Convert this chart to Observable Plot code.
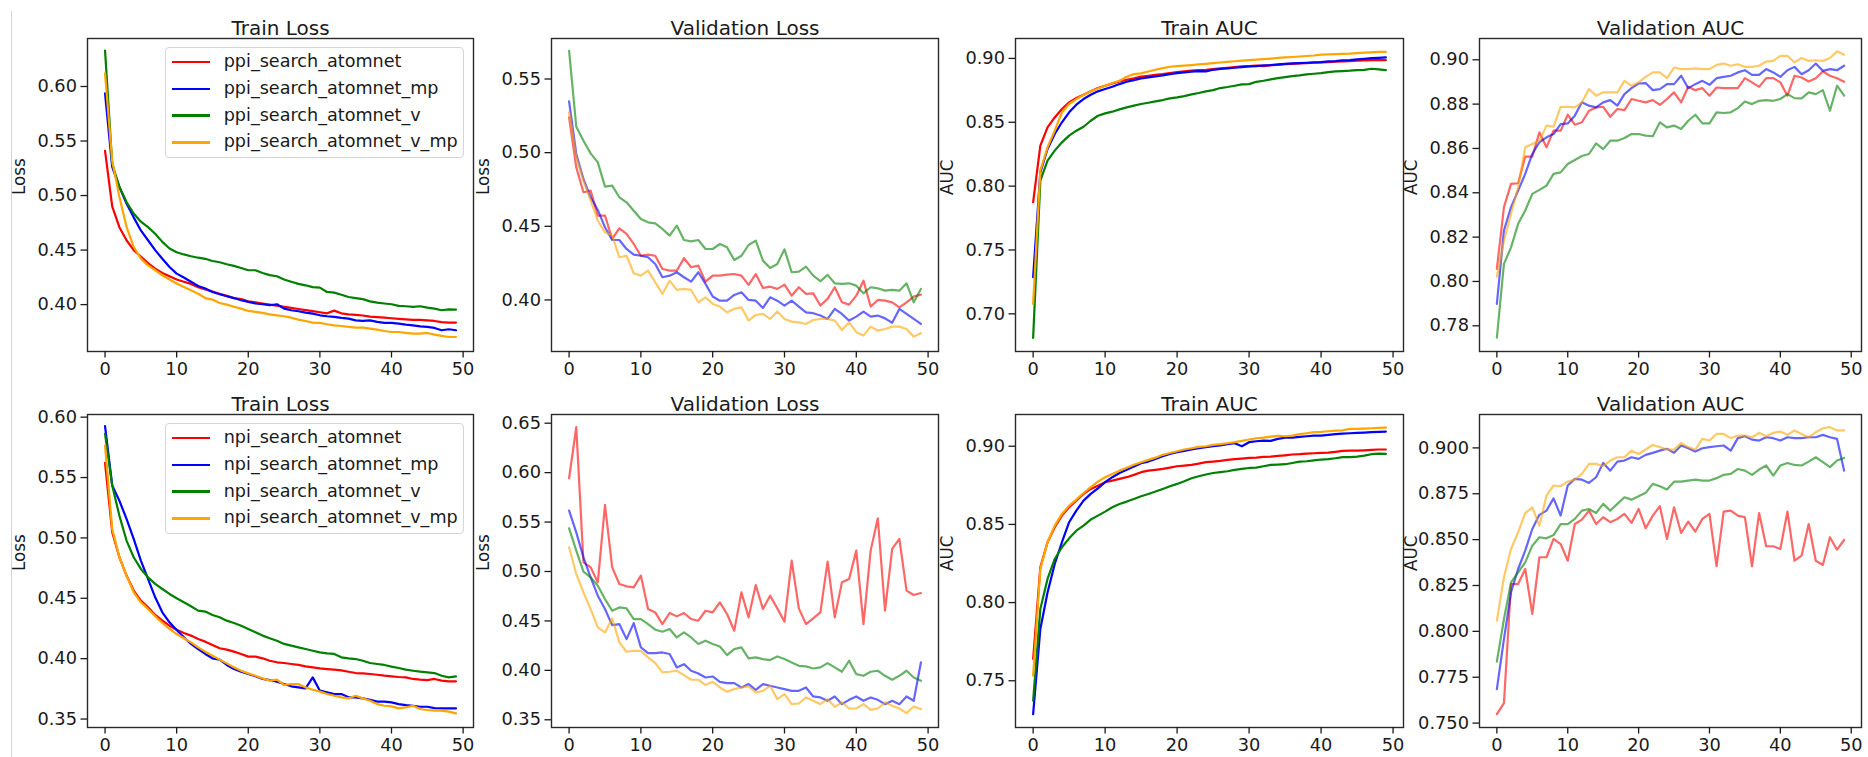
<!DOCTYPE html>
<html><head><meta charset="utf-8">
<script src="https://cdn.jsdelivr.net/npm/d3@7"></script>
<script src="https://cdn.jsdelivr.net/npm/@observablehq/plot@0.6"></script>
<style>
body{margin:0;background:#fff;}
#chart{position:relative;width:1868px;height:757px;overflow:hidden;background:#fff;font-family:'DejaVu Sans',sans-serif;color:#1a1a1a;}
.panel{position:absolute;}
.edge{position:absolute;left:11px;top:11px;width:1px;height:746px;background:#d4d4d4;}
.legend{position:absolute;box-sizing:border-box;border:1px solid #d6d6d6;border-radius:4px;background:rgba(255,255,255,0.85);}
.legend .sw{position:absolute;height:2.4px;}
.legend .lab{position:absolute;font-size:17.6px;line-height:1;white-space:nowrap;transform:translateY(-50%);}
</style></head><body><div id="chart"><div class="edge"></div></div><script>
// ---------- data ----------
const epochs = d3.range(50);
const xTicks = [0, 10, 20, 30, 40, 50];
const seriesColors = ["#ff0000", "#0000ff", "#008000", "#ffa500"];
const ppiNames = ["ppi_search_atomnet", "ppi_search_atomnet_mp", "ppi_search_atomnet_v", "ppi_search_atomnet_v_mp"];
const npiNames = ["npi_search_atomnet", "npi_search_atomnet_mp", "npi_search_atomnet_v", "npi_search_atomnet_v_mp"];
const titles = ["Train Loss", "Validation Loss", "Train AUC", "Validation AUC"];
const yLabels = ["Loss", "Loss", "AUC", "AUC"];

// ppi - train loss
const ppiTrainLoss_atomnet = [0.541,0.490,0.471,0.459,0.450,0.444,0.438,0.433,0.429,0.426,0.423,0.421,0.419,0.416,0.414,0.412,0.410,0.408,0.406,0.405,0.403,0.402,0.401,0.400,0.399,0.398,0.397,0.396,0.395,0.394,0.393,0.392,0.3945,0.392,0.391,0.3905,0.390,0.389,0.3885,0.388,0.3875,0.387,0.3865,0.386,0.386,0.3855,0.385,0.384,0.3835,0.3835];
const ppiTrainLoss_mp = [0.5936,0.5263,0.508,0.4927,0.480,0.468,0.459,0.450,0.442,0.4345,0.4284,0.4248,0.421,0.4171,0.4147,0.4116,0.4095,0.4077,0.406,0.404,0.4025,0.401,0.4003,0.3994,0.4003,0.3963,0.3948,0.3939,0.3927,0.3917,0.3902,0.3893,0.3887,0.3878,0.3872,0.3856,0.385,0.3856,0.3841,0.3832,0.3832,0.3826,0.3817,0.381,0.380,0.3795,0.3786,0.3765,0.3774,0.3765];
const ppiTrainLoss_v = [0.633,0.529,0.508,0.494,0.4835,0.476,0.471,0.465,0.4575,0.4514,0.448,0.446,0.4443,0.443,0.442,0.440,0.4388,0.437,0.4355,0.4336,0.4315,0.4315,0.429,0.427,0.426,0.423,0.421,0.419,0.4177,0.416,0.4156,0.4116,0.411,0.409,0.407,0.406,0.405,0.403,0.4018,0.401,0.4003,0.3988,0.3985,0.398,0.3985,0.3972,0.3963,0.3948,0.3957,0.3954];
const ppiTrainLoss_v_mp = [0.612,0.532,0.499,0.4713,0.453,0.4422,0.436,0.4315,0.4269,0.423,0.4193,0.4162,0.4132,0.410,0.406,0.4046,0.4015,0.400,0.398,0.3963,0.3942,0.3933,0.3924,0.3911,0.3902,0.3893,0.388,0.3862,0.385,0.3835,0.3832,0.382,0.381,0.3804,0.3795,0.3789,0.3789,0.378,0.377,0.3758,0.3749,0.3749,0.374,0.3734,0.3734,0.374,0.3725,0.3713,0.3703,0.3703];

// ppi - validation loss
const ppiValLoss_atomnet = [0.524,0.490,0.4731,0.4742,0.4572,0.4572,0.4414,0.4486,0.4448,0.438,0.430,0.4308,0.430,0.421,0.4199,0.4199,0.4283,0.4222,0.4233,0.4124,0.4165,0.4165,0.4172,0.4176,0.4165,0.4102,0.4176,0.4081,0.409,0.4075,0.4104,0.4029,0.4086,0.4041,0.4045,0.3962,0.4007,0.4086,0.3984,0.3968,0.4029,0.4131,0.3955,0.400,0.3995,0.3984,0.395,0.3984,0.4023,0.4036];
const ppiValLoss_mp = [0.5348,0.4991,0.4821,0.4697,0.4611,0.4493,0.4407,0.4407,0.4346,0.4308,0.430,0.429,0.4244,0.4154,0.4165,0.4188,0.4154,0.4124,0.4188,0.4109,0.4023,0.3995,0.3995,0.4034,0.4052,0.400,0.3995,0.3946,0.4018,0.3995,0.3962,0.3995,0.3955,0.3916,0.391,0.3894,0.3871,0.3939,0.3905,0.386,0.3887,0.3921,0.3887,0.3894,0.3875,0.3845,0.3939,0.3905,0.3871,0.3837];
const ppiValLoss_v = [0.5692,0.5176,0.5081,0.4995,0.4934,0.4769,0.4776,0.4697,0.4663,0.4606,0.455,0.4527,0.452,0.4482,0.4437,0.4505,0.4407,0.4398,0.4407,0.4346,0.4346,0.438,0.4357,0.4271,0.430,0.4373,0.4403,0.4267,0.4217,0.4244,0.4344,0.4188,0.4192,0.4226,0.4165,0.4127,0.417,0.4113,0.4109,0.4113,0.4097,0.4045,0.4086,0.4079,0.4063,0.4068,0.4063,0.4113,0.3984,0.4075];
const ppiValLoss_v_mp = [0.5274,0.4968,0.481,0.4674,0.4538,0.4459,0.4437,0.429,0.430,0.4181,0.4165,0.4199,0.412,0.4041,0.4131,0.4068,0.4075,0.4068,0.3984,0.4018,0.3973,0.3955,0.3916,0.3939,0.395,0.386,0.3898,0.3905,0.3871,0.3921,0.3871,0.3853,0.3848,0.3837,0.3864,0.3871,0.3871,0.386,0.3796,0.3848,0.3781,0.3758,0.3819,0.3792,0.3803,0.3819,0.3819,0.3803,0.3751,0.3774];

// ppi - train AUC
const ppiTrainAuc_atomnet = [0.7874,0.8317,0.846,0.8538,0.8604,0.8656,0.869,0.8716,0.8742,0.8768,0.8786,0.8804,0.882,0.8833,0.8844,0.8857,0.8864,0.8872,0.8877,0.8885,0.8893,0.8898,0.8904,0.8909,0.8911,0.8917,0.8922,0.8927,0.8932,0.8937,0.894,0.8943,0.894,0.8948,0.895,0.8956,0.8958,0.8961,0.8963,0.8966,0.8969,0.8971,0.8974,0.8977,0.8979,0.8982,0.8984,0.8987,0.8987,0.8987];
const ppiTrainAuc_mp = [0.7287,0.8108,0.8291,0.8408,0.85,0.8578,0.8638,0.8682,0.8716,0.8742,0.876,0.8778,0.8799,0.8817,0.883,0.8844,0.8851,0.8859,0.8867,0.8877,0.8885,0.889,0.8896,0.8901,0.8898,0.8911,0.8917,0.8922,0.8927,0.8932,0.8937,0.894,0.8945,0.8948,0.8953,0.8958,0.8961,0.8963,0.8966,0.8969,0.8971,0.8977,0.8979,0.8984,0.8987,0.8992,0.8997,0.9003,0.9005,0.9008];
const ppiTrainAuc_v = [0.6812,0.8043,0.82,0.8278,0.8343,0.8395,0.8434,0.8465,0.8512,0.8551,0.857,0.8583,0.8601,0.8617,0.863,0.8643,0.8653,0.8664,0.8674,0.8687,0.8695,0.8705,0.8718,0.8729,0.8742,0.8752,0.8768,0.8776,0.8786,0.8797,0.8799,0.8817,0.8825,0.8836,0.8846,0.8854,0.8862,0.8867,0.8875,0.888,0.8885,0.8893,0.8898,0.8901,0.8904,0.8909,0.8911,0.8919,0.8914,0.8909];
const ppiTrainAuc_v_mp = [0.7078,0.8121,0.8304,0.8434,0.8578,0.8643,0.8682,0.8713,0.8742,0.8765,0.8786,0.8807,0.8825,0.8857,0.8877,0.8883,0.8898,0.8911,0.8924,0.8935,0.894,0.8944,0.8948,0.8953,0.8958,0.8963,0.8968,0.8973,0.8978,0.8982,0.8987,0.8991,0.8995,0.8999,0.9004,0.9008,0.9011,0.9015,0.9019,0.9023,0.9029,0.9031,0.9034,0.9036,0.9038,0.9042,0.9045,0.9048,0.9051,0.9052];

// ppi - validation AUC
const ppiValAuc_atomnet = [0.8057,0.8335,0.844,0.8443,0.8563,0.8563,0.8673,0.8605,0.868,0.868,0.8752,0.8707,0.8718,0.877,0.8785,0.8788,0.8743,0.8778,0.8773,0.8823,0.8815,0.8808,0.8818,0.8797,0.8823,0.8853,0.8808,0.8878,0.8863,0.8872,0.8838,0.8875,0.8872,0.8872,0.8872,0.8917,0.8898,0.8878,0.8917,0.8917,0.8898,0.8838,0.8928,0.892,0.8902,0.8917,0.8947,0.8928,0.8917,0.8901];
const ppiValAuc_mp = [0.7899,0.823,0.8335,0.841,0.8485,0.8575,0.8628,0.865,0.8665,0.871,0.8713,0.8748,0.8808,0.8793,0.8785,0.8808,0.8818,0.8793,0.8845,0.8872,0.8893,0.8895,0.8863,0.8868,0.889,0.889,0.8928,0.8872,0.889,0.8905,0.8887,0.8917,0.8923,0.8928,0.8943,0.8953,0.8932,0.8932,0.8958,0.8943,0.8923,0.8953,0.8968,0.8935,0.8953,0.8983,0.895,0.8958,0.8953,0.8973];
const ppiValAuc_v = [0.7746,0.8079,0.8154,0.826,0.832,0.8395,0.8413,0.8432,0.8485,0.8492,0.853,0.8548,0.8566,0.8575,0.8623,0.8597,0.8635,0.8635,0.8647,0.8665,0.8665,0.8658,0.8655,0.8718,0.8695,0.8703,0.8688,0.8725,0.8752,0.8713,0.8713,0.8763,0.876,0.8763,0.8782,0.8812,0.88,0.8815,0.8818,0.8815,0.8823,0.8845,0.8827,0.8826,0.8853,0.8845,0.8863,0.877,0.8883,0.8838];
const ppiValAuc_v_mp = [0.8022,0.8184,0.8305,0.8425,0.8605,0.862,0.8635,0.8703,0.8698,0.8788,0.8788,0.8785,0.8808,0.8868,0.8838,0.8853,0.8853,0.8853,0.8905,0.8883,0.8898,0.8923,0.8943,0.8943,0.8917,0.8965,0.8958,0.8958,0.8961,0.8958,0.8958,0.8977,0.8983,0.8973,0.898,0.8968,0.8968,0.8973,0.8992,0.8995,0.9018,0.9018,0.8988,0.9008,0.8995,0.8998,0.8995,0.9008,0.9038,0.9023];

// npi - train loss
const npiTrainLoss_atomnet = [0.5622,0.5047,0.484,0.4688,0.4564,0.4481,0.4425,0.4362,0.4315,0.4273,0.424,0.4213,0.4191,0.4163,0.4141,0.4113,0.4086,0.4075,0.4058,0.4039,0.4017,0.4017,0.4003,0.3983,0.397,0.3964,0.3956,0.3948,0.3936,0.3928,0.392,0.3914,0.3909,0.3903,0.3892,0.3881,0.3878,0.3873,0.3867,0.3859,0.3854,0.3848,0.3845,0.3832,0.3826,0.3823,0.3832,0.3818,0.3812,0.3812];
const npiTrainLoss_mp = [0.5925,0.5434,0.5309,0.5157,0.4992,0.4812,0.466,0.4508,0.4384,0.4301,0.4238,0.4177,0.4122,0.408,0.4039,0.4003,0.3992,0.3948,0.3914,0.3892,0.3873,0.3854,0.3832,0.3823,0.3809,0.379,0.3771,0.3762,0.3754,0.3845,0.3735,0.3721,0.3707,0.3707,0.368,0.368,0.3671,0.366,0.3644,0.3644,0.3638,0.3624,0.3616,0.361,0.3602,0.3602,0.3591,0.3588,0.3588,0.3588];
const npiTrainLoss_v = [0.5862,0.5434,0.5185,0.4978,0.484,0.4743,0.4674,0.4619,0.4577,0.4536,0.45,0.4467,0.4434,0.4398,0.439,0.4362,0.4343,0.4315,0.4296,0.4273,0.4246,0.4218,0.4191,0.4169,0.4149,0.4122,0.4108,0.4094,0.408,0.4066,0.4052,0.4044,0.4039,0.4011,0.4003,0.3997,0.3983,0.3964,0.3956,0.3948,0.3934,0.3923,0.3909,0.39,0.3892,0.3887,0.3881,0.3859,0.3845,0.3854];
const npiTrainLoss_v_mp = [0.5765,0.5075,0.484,0.4688,0.455,0.4467,0.4412,0.4351,0.4296,0.4246,0.4204,0.4169,0.4135,0.4094,0.4058,0.4025,0.3992,0.3961,0.3928,0.39,0.3878,0.3859,0.3837,0.3818,0.3826,0.3782,0.379,0.379,0.3762,0.3743,0.3727,0.3707,0.3693,0.368,0.3671,0.3693,0.3671,0.3652,0.3624,0.361,0.3605,0.3588,0.3597,0.361,0.3583,0.3575,0.3569,0.3569,0.3561,0.3547];

// npi - validation loss
const npiValLoss_atomnet = [0.5943,0.646,0.5093,0.5042,0.489,0.5673,0.5042,0.4873,0.485,0.484,0.4958,0.462,0.4586,0.4468,0.458,0.4546,0.458,0.4519,0.4502,0.4603,0.4586,0.4688,0.457,0.4401,0.4789,0.4536,0.4863,0.462,0.4755,0.4627,0.4492,0.511,0.4627,0.4468,0.4526,0.4586,0.51,0.4536,0.489,0.4924,0.5211,0.4468,0.5211,0.5538,0.4603,0.5228,0.5329,0.4806,0.4762,0.4782];
const npiValLoss_mp = [0.5616,0.5396,0.5143,0.4941,0.4755,0.462,0.4458,0.4468,0.4316,0.4478,0.4232,0.4175,0.4175,0.4181,0.4165,0.403,0.4063,0.3996,0.3969,0.3928,0.3938,0.3884,0.3871,0.3871,0.3827,0.3861,0.3803,0.3861,0.3844,0.3827,0.381,0.3793,0.3793,0.3827,0.3736,0.3726,0.3692,0.3736,0.3658,0.3702,0.3736,0.3692,0.3726,0.3702,0.3658,0.3692,0.3658,0.3736,0.3692,0.408];
const npiValLoss_v = [0.5437,0.5211,0.4998,0.4941,0.4856,0.4721,0.4603,0.4637,0.4627,0.4519,0.4519,0.4468,0.4411,0.4391,0.4418,0.4333,0.4384,0.4333,0.4266,0.43,0.4266,0.4242,0.4154,0.4215,0.4232,0.4121,0.4131,0.4114,0.4104,0.4141,0.4114,0.408,0.4046,0.404,0.4019,0.403,0.4073,0.403,0.3986,0.4097,0.3962,0.3945,0.3986,0.3996,0.3945,0.3905,0.3945,0.3996,0.3928,0.3895];
const npiValLoss_v_mp = [0.5245,0.4975,0.4789,0.462,0.4435,0.4384,0.4526,0.4283,0.4188,0.4198,0.4198,0.4131,0.4073,0.3979,0.3986,0.3996,0.3952,0.3905,0.3905,0.3851,0.3884,0.3827,0.3783,0.381,0.3827,0.3837,0.3776,0.3793,0.3844,0.3709,0.376,0.3658,0.3665,0.3726,0.3692,0.3658,0.3709,0.3631,0.3675,0.3614,0.3614,0.3658,0.3601,0.3614,0.3675,0.3641,0.3614,0.3567,0.3635,0.3608];

// npi - train AUC
const npiTrainAuc_atomnet = [0.7639,0.8226,0.8386,0.8482,0.8556,0.861,0.8652,0.8695,0.8727,0.8748,0.877,0.878,0.8791,0.8802,0.8817,0.8834,0.8844,0.8849,0.8855,0.8863,0.8872,0.8876,0.8881,0.8889,0.8898,0.8902,0.8906,0.8913,0.8917,0.8921,0.8925,0.8927,0.8932,0.8934,0.8938,0.8942,0.8947,0.8949,0.8953,0.8955,0.8957,0.8959,0.8964,0.897,0.8972,0.8972,0.8974,0.8977,0.8979,0.8979];
const npiTrainAuc_mp = [0.7287,0.7831,0.8065,0.8247,0.8386,0.8514,0.8588,0.8652,0.8695,0.8731,0.877,0.8802,0.8829,0.8849,0.887,0.8891,0.8902,0.8919,0.8936,0.8951,0.8962,0.897,0.8979,0.8987,0.8994,0.9,0.9006,0.9013,0.9019,0.9,0.9026,0.9032,0.9036,0.9034,0.9047,0.9055,0.9055,0.906,0.9064,0.9068,0.9068,0.9073,0.9077,0.9081,0.9083,0.9085,0.9087,0.909,0.9092,0.9094];
const npiTrainAuc_v = [0.7372,0.7959,0.8151,0.8279,0.8354,0.8411,0.846,0.8492,0.8531,0.8556,0.8582,0.861,0.8631,0.8646,0.8663,0.868,0.8695,0.871,0.8727,0.8744,0.8759,0.8776,0.8795,0.8808,0.8819,0.8829,0.8834,0.884,0.8849,0.8855,0.8861,0.8863,0.8872,0.8881,0.8883,0.8885,0.8893,0.8902,0.8904,0.891,0.8915,0.8917,0.8923,0.893,0.893,0.8934,0.894,0.8949,0.8953,0.8951];
const npiTrainAuc_v_mp = [0.7532,0.8215,0.8386,0.8492,0.8567,0.862,0.8659,0.8701,0.8738,0.8774,0.8802,0.8823,0.8844,0.8863,0.8881,0.8898,0.8913,0.8927,0.8945,0.8957,0.8968,0.8979,0.8987,0.8996,0.9,0.9009,0.9013,0.9019,0.9026,0.9034,0.9043,0.9051,0.9055,0.9062,0.9066,0.9064,0.9068,0.9077,0.9083,0.909,0.9092,0.9096,0.91,0.9102,0.9111,0.9111,0.9113,0.9115,0.9117,0.9119];

// npi - validation AUC
const npiValAuc_atomnet = [0.7549,0.7609,0.8258,0.8258,0.834,0.8095,0.8404,0.8404,0.8504,0.8476,0.8385,0.8585,0.8609,0.8658,0.8585,0.8622,0.8595,0.8613,0.864,0.8591,0.8667,0.8562,0.8631,0.8682,0.8504,0.8676,0.8536,0.8598,0.8544,0.8613,0.864,0.8355,0.8653,0.8658,0.8631,0.8622,0.8355,0.8645,0.8464,0.8464,0.8449,0.8653,0.8385,0.8413,0.8585,0.8385,0.8362,0.8513,0.8445,0.8498];
const npiValAuc_mp = [0.7685,0.7958,0.8213,0.834,0.844,0.8558,0.8635,0.8658,0.8725,0.8631,0.8795,0.8831,0.8827,0.8809,0.884,0.8918,0.8876,0.8925,0.8931,0.8949,0.894,0.8962,0.8973,0.8985,0.8995,0.8973,0.9013,0.8998,0.898,0.8998,0.9004,0.9009,0.9013,0.8985,0.9053,0.9064,0.9045,0.904,0.9058,0.9053,0.904,0.9058,0.9053,0.9053,0.9058,0.9058,0.9071,0.9058,0.9049,0.8876];
const npiValAuc_v = [0.7835,0.8067,0.8267,0.8322,0.8376,0.8467,0.8513,0.8507,0.8525,0.8585,0.8585,0.8613,0.8658,0.8667,0.8645,0.8695,0.8658,0.8695,0.8731,0.8718,0.8736,0.8755,0.8804,0.8791,0.8773,0.8816,0.8816,0.8822,0.8827,0.8822,0.8822,0.8835,0.8853,0.8858,0.8885,0.8876,0.8853,0.8882,0.8904,0.8849,0.8904,0.8918,0.8907,0.8904,0.8925,0.8949,0.8922,0.8895,0.8931,0.8945];
const npiValAuc_v_mp = [0.8058,0.8295,0.8449,0.854,0.8645,0.8676,0.8576,0.874,0.8795,0.8791,0.8816,0.8827,0.8858,0.8913,0.8913,0.89,0.8931,0.8949,0.8949,0.8985,0.8967,0.8991,0.9016,0.9004,0.8991,0.8991,0.9027,0.9004,0.8991,0.9049,0.904,0.9076,0.9076,0.9053,0.9067,0.9067,0.9058,0.9082,0.9064,0.9082,0.9089,0.9071,0.9095,0.9076,0.9058,0.9085,0.9107,0.9113,0.9095,0.9095];

// ---------- panel configuration ----------
const yDomains = [
  [0.357, 0.644], [0.365, 0.5775], [0.6705, 0.9156], [0.7684, 0.9096],
  [0.343, 0.6022], [0.3422, 0.6588], [0.7201, 0.9203], [0.7476, 0.9182]
];
const yTickSets = [
  [0.40, 0.45, 0.50, 0.55, 0.60], [0.40, 0.45, 0.50, 0.55], [0.70, 0.75, 0.80, 0.85, 0.90], [0.78, 0.80, 0.82, 0.84, 0.86, 0.88, 0.90],
  [0.35, 0.40, 0.45, 0.50, 0.55, 0.60], [0.35, 0.40, 0.45, 0.50, 0.55, 0.60, 0.65], [0.75, 0.80, 0.85, 0.90], [0.750, 0.775, 0.800, 0.825, 0.850, 0.875, 0.900]
];
const yFormats = [".2f", ".2f", ".2f", ".2f", ".2f", ".2f", ".2f", ".3f"];
const panelSeries = [
  [ppiTrainLoss_atomnet, ppiTrainLoss_mp, ppiTrainLoss_v, ppiTrainLoss_v_mp],
  [ppiValLoss_atomnet, ppiValLoss_mp, ppiValLoss_v, ppiValLoss_v_mp],
  [ppiTrainAuc_atomnet, ppiTrainAuc_mp, ppiTrainAuc_v, ppiTrainAuc_v_mp],
  [ppiValAuc_atomnet, ppiValAuc_mp, ppiValAuc_v, ppiValAuc_v_mp],
  [npiTrainLoss_atomnet, npiTrainLoss_mp, npiTrainLoss_v, npiTrainLoss_v_mp],
  [npiValLoss_atomnet, npiValLoss_mp, npiValLoss_v, npiValLoss_v_mp],
  [npiTrainAuc_atomnet, npiTrainAuc_mp, npiTrainAuc_v, npiTrainAuc_v_mp],
  [npiValAuc_atomnet, npiValAuc_mp, npiValAuc_v, npiValAuc_v_mp]
];

// layout (frame positions in page pixels)
const colLeft = [87, 551, 1015, 1479];
const colWidth = [386, 387, 388, 382];
const rowTop = [38, 414];
const frameH = 313;
const mL = 80, mR = 8, mT = 38, mB = 32;

const chart = document.getElementById("chart");

panelSeries.forEach((series, p) => {
  const row = Math.floor(p / 4), col = p % 4;
  const fl = colLeft[col], fw = colWidth[col], ft = rowTop[row];
  const isVal = col === 1 || col === 3;
  const alpha = isVal ? 0.6 : 1;
  const plot = Plot.plot({
    width: fw + mL + mR,
    height: frameH + mT + mB,
    marginLeft: mL, marginRight: mR, marginTop: mT, marginBottom: mB,
    style: "font-family:'DejaVu Sans',sans-serif;font-size:17.8px;color:#1a1a1a;background:transparent;overflow:visible;max-width:none;",
    x: {domain: [-2.45, 51.45], label: null},
    y: {domain: yDomains[p], label: null},
    marks: [
      ...series.map((vals, k) => Plot.lineY(vals, {
        x: (d, i) => epochs[i], y: d => d,
        stroke: seriesColors[k], strokeWidth: 2.2, strokeOpacity: alpha
      })),
      Plot.frame({stroke: "#2a2a2a", strokeWidth: 1.4}),
      Plot.axisX({ticks: xTicks, tickSize: 6.5, tickPadding: 4, strokeWidth: 1.3, label: null}),
      Plot.axisY({ticks: yTickSets[p], tickFormat: d3.format(yFormats[p]), tickSize: 6.5, tickPadding: 4, strokeWidth: 1.3, label: null}),
      Plot.text([titles[col]], {text: d => d, frameAnchor: "top", dy: -18, fontSize: 20}),
      Plot.text([yLabels[col]], {text: d => d, frameAnchor: "left", dx: -68, rotate: -90, fontSize: 16.8})
    ]
  });
  const holder = document.createElement("div");
  holder.className = "panel";
  holder.style.left = (fl - mL) + "px";
  holder.style.top = (ft - mT) + "px";
  holder.style.width = (fw + mL + mR) + "px";
  holder.appendChild(plot);
  chart.appendChild(holder);

  if (col === 0) {
    const names = row === 0 ? ppiNames : npiNames;
    const lg = document.createElement("div");
    lg.className = "legend";
    lg.style.left = (fl + 78) + "px";
    lg.style.top = (ft + 9) + "px";
    lg.style.width = "299px";
    lg.style.height = "110.6px";
    names.forEach((name, k) => {
      const cy = 14.3 + k * 26.67;
      const sw = document.createElement("div");
      sw.className = "sw";
      sw.style.left = "5.7px";
      sw.style.width = "38.6px";
      sw.style.top = (cy - 1.2) + "px";
      sw.style.background = seriesColors[k];
      lg.appendChild(sw);
      const lab = document.createElement("div");
      lab.className = "lab";
      lab.style.left = "57.7px";
      lab.style.top = cy + "px";
      lab.textContent = name;
      lg.appendChild(lab);
    });
    chart.appendChild(lg);
  }
});
</script></body></html>
